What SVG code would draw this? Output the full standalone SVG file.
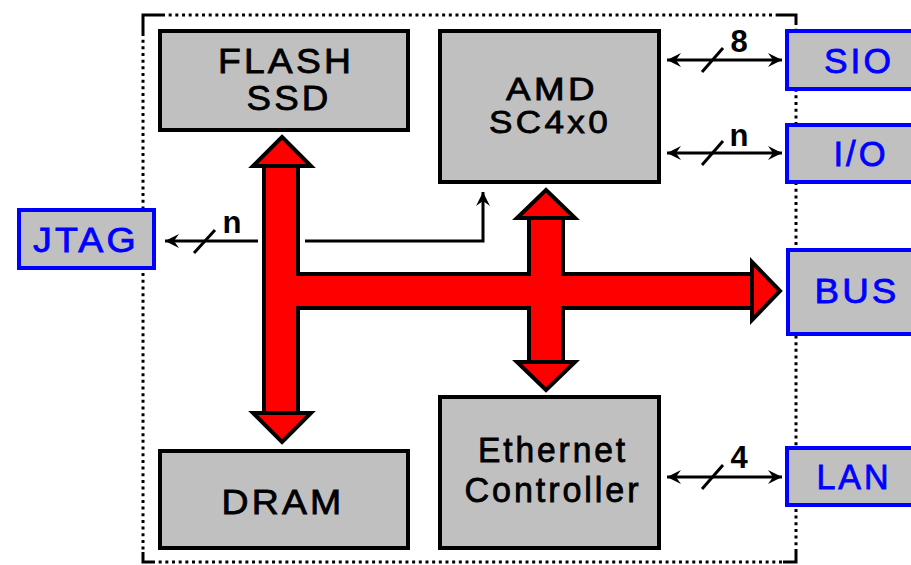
<svg xmlns="http://www.w3.org/2000/svg" width="911" height="565" viewBox="0 0 911 565">
<style>
.box{fill:#c0c0c0;stroke:#000;stroke-width:4}
.ext{fill:#c0c0c0;stroke:#0000ff;stroke-width:4}
.t{font-family:"Liberation Sans",Arial,sans-serif;font-size:35px;letter-spacing:3px;fill:#000;stroke:#000;stroke-width:0.8;text-anchor:middle}
.tb{font-family:"Liberation Sans",Arial,sans-serif;font-size:35px;letter-spacing:3px;fill:#0000ff;stroke:#0000ff;stroke-width:0.8;text-anchor:middle}
.lbl{font-family:"Liberation Sans",Arial,sans-serif;font-size:31px;font-weight:bold;fill:#000;text-anchor:middle}
.ln{fill:none;stroke:#000;stroke-width:3}
.bus{fill:#ff0000;stroke:#000;stroke-width:4;stroke-linejoin:miter}
.dot{fill:none;stroke:#000;stroke-width:3;stroke-dasharray:3 3.67}
.corner{fill:none;stroke:#000;stroke-width:3}
</style>
<defs>
<marker id="ah" viewBox="-15 -8 16 16" refX="0" refY="0" markerWidth="16" markerHeight="16" markerUnits="userSpaceOnUse" orient="auto-start-reverse">
<path d="M0,0 L-14,-7 L-9,0 L-14,7 Z" fill="#000"/>
</marker>
</defs>
<rect width="911" height="565" fill="#fff"/>
<g id="border">
<path class="dot" d="M162,15 H777 M143,33 V552 M796,22 V550 M152,562 H783"/>
<path class="corner" d="M143,33 V15 H162 M777,15 H796 V22 M143,552 V562 H152 M783,562 H796 V550"/>
</g>
<g id="connectors">
<path class="ln" d="M258,241 H165" marker-end="url(#ah)"/>
<path class="ln" d="M305,241 H483 V192" marker-end="url(#ah)"/>
<path class="ln" d="M194,253 L215,230"/>
<text class="lbl" x="232" y="233">n</text>
<path class="ln" d="M667,60 H782" marker-start="url(#ah)" marker-end="url(#ah)"/>
<path class="ln" d="M702,72 L723,48"/>
<text class="lbl" x="739" y="52">8</text>
<path class="ln" d="M667,153 H782" marker-start="url(#ah)" marker-end="url(#ah)"/>
<path class="ln" d="M702,165 L723,141"/>
<text class="lbl" x="739" y="146">n</text>
<path class="ln" d="M667,477 H782" marker-start="url(#ah)" marker-end="url(#ah)"/>
<path class="ln" d="M702,489 L723,465"/>
<text class="lbl" x="739" y="468">4</text>
</g>
<g id="bus">
<path class="bus" d="M264,166 H298 V274 H529 V218 H563 V274 H752 V308 H563 V362 H529 V308 H298 V413 H264 Z"/>
<path class="bus" d="M282,137 L311,166 H253 Z"/>
<path class="bus" d="M282,442 L311,413 H253 Z"/>
<path class="bus" d="M546,190 L575,218 H517 Z"/>
<path class="bus" d="M546,390 L575,362 H517 Z"/>
<path class="bus" d="M780,291 L752,262 V320 Z"/>
</g>
<g id="flash">
<rect class="box" x="160" y="31" width="248" height="99"/>
<text class="t" x="286" y="73" textLength="136" lengthAdjust="spacingAndGlyphs">FLASH</text>
<text class="t" x="289" y="110" textLength="85" lengthAdjust="spacingAndGlyphs">SSD</text>
</g>
<g id="amd">
<rect class="box" x="440" y="31" width="219" height="151"/>
<text class="t" x="552" y="100" textLength="92" lengthAdjust="spacingAndGlyphs" style="font-size:32px">AMD</text>
<text class="t" x="550" y="133" textLength="122" lengthAdjust="spacingAndGlyphs" style="font-size:32px">SC4x0</text>
</g>
<g id="dram">
<rect class="box" x="160" y="451" width="248" height="97"/>
<text class="t" x="283" y="514" textLength="123" lengthAdjust="spacingAndGlyphs">DRAM</text>
</g>
<g id="ethernet">
<rect class="box" x="440" y="397" width="219" height="151"/>
<text class="t" x="553" y="462" textLength="150" lengthAdjust="spacingAndGlyphs">Ethernet</text>
<text class="t" x="553" y="502" textLength="177" lengthAdjust="spacingAndGlyphs">Controller</text>
</g>
<g id="sio">
<rect class="ext" x="787" y="31" width="140" height="58"/>
<text class="tb" x="859" y="73" textLength="70" lengthAdjust="spacingAndGlyphs">SIO</text>
</g>
<g id="io">
<rect class="ext" x="787" y="125" width="140" height="57"/>
<text class="tb" x="861" y="166" textLength="55" lengthAdjust="spacingAndGlyphs">I/O</text>
</g>
<g id="busport">
<rect class="ext" x="788" y="250" width="140" height="84"/>
<text class="tb" x="857" y="303" textLength="85" lengthAdjust="spacingAndGlyphs">BUS</text>
</g>
<g id="lan">
<rect class="ext" x="787" y="448" width="140" height="57"/>
<text class="tb" x="854" y="489" textLength="75" lengthAdjust="spacingAndGlyphs">LAN</text>
</g>
<g id="jtag">
<rect class="ext" x="19" y="210" width="135" height="58"/>
<text class="tb" x="86" y="252" textLength="106" lengthAdjust="spacingAndGlyphs">JTAG</text>
</g>
</svg>
